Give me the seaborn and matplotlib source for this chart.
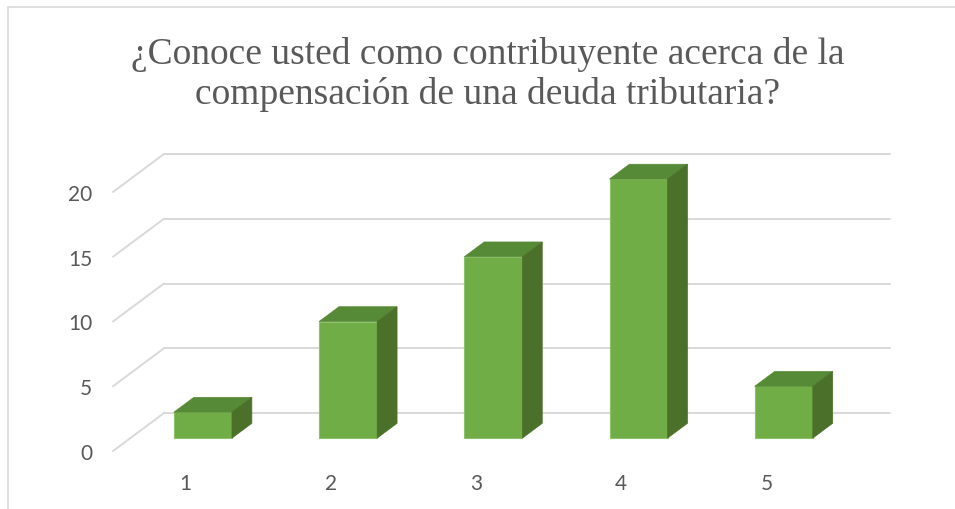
import numpy as np
import pandas as pd
import matplotlib
matplotlib.use('Agg')
import matplotlib.pyplot as plt
import seaborn as sns
from matplotlib.patches import Polygon, Rectangle

sns.set_style('white')

# datos del grafico
categorias = ['1', '2', '3', '4', '5']
valores = [2, 9, 14, 20, 4]
ticks_y = [0, 5, 10, 15, 20]
titulo = ['¿Conoce usted como contribuyente acerca de la',
          'compensación de una deuda tributaria?']

verde = '#70AD47'
verde_top = '#578A36'
verde_lado = '#4A7029'
gris_txt = '#595959'
gris_grid = '#D9D9D9'

# efecto 3D: desplazamiento de la pared del fondo (unidades de datos)
dx, dy = 0.351, 2.93
f_front, f_back = 0.34, 0.73

fig = plt.figure(figsize=(9.55, 5.1), dpi=100)
ax = fig.add_axes([113/955, 1 - 452/510, (890 - 113)/955, (452 - 155)/510])

df = pd.DataFrame({'cat': categorias, 'val': valores})
sns.barplot(data=df, x='cat', y='val', color=verde, width=0.4, saturation=1,
            edgecolor='#8CC36A', linewidth=0.8, ax=ax, zorder=3)

x_left = -0.5
x_right = 4.851

# lineas de cuadricula (diagonal + pared del fondo)
for v in ticks_y:
    ax.plot([x_left, x_left + dx], [v, v + dy], color=gris_grid, lw=1.4, zorder=1, clip_on=False)
    ax.plot([x_left + dx, x_right], [v + dy, v + dy], color=gris_grid, lw=1.4, zorder=1, clip_on=False)

# caras superior y lateral de cada barra
d = f_back - f_front
for p in list(ax.patches):
    x0, w, h = p.get_x(), p.get_width(), p.get_height()
    x0 = x0 + f_front * dx
    y0 = f_front * dy
    p.set_x(x0)
    p.set_y(y0)
    p.set_clip_on(False)
    ddx, ddy = d * dx, d * dy
    top = Polygon([(x0, y0 + h), (x0 + w, y0 + h), (x0 + w + ddx, y0 + h + ddy), (x0 + ddx, y0 + h + ddy)],
                  closed=True, facecolor=verde_top, edgecolor=verde_top, lw=0.5, zorder=3, clip_on=False)
    side = Polygon([(x0 + w, y0), (x0 + w + ddx, y0 + ddy), (x0 + w + ddx, y0 + h + ddy), (x0 + w, y0 + h)],
                   closed=True, facecolor=verde_lado, edgecolor=verde_lado, lw=0.5, zorder=3, clip_on=False)
    ax.add_patch(top)
    ax.add_patch(side)

ax.set_xlim(x_left, x_right)
ax.set_ylim(0, 22.93)
ax.set_yticks(ticks_y)
ax.set_yticklabels([str(t) for t in ticks_y])
ax.set_xlabel('')
ax.set_ylabel('')
for s in ax.spines.values():
    s.set_visible(False)
ax.tick_params(axis='y', length=0, pad=15, labelsize=15, labelcolor=gris_txt)
ax.tick_params(axis='x', length=0, pad=16, labelsize=15, labelcolor=gris_txt)
for lab in ax.get_xticklabels() + ax.get_yticklabels():
    lab.set_family('Lato')
ax.patch.set_alpha(0)

# titulo en dos lineas
for linea, base in zip(titulo, [64, 104]):
    fig.text(0.511, 1 - base/510, linea, ha='center', va='baseline', fontsize=27,
             family='Liberation Serif', color=gris_txt)

# borde del area del grafico
fig.add_artist(Rectangle((8/955, -0.1), 1.0, 1 - 8/510 + 0.1, transform=fig.transFigure,
                         fill=False, edgecolor=gris_grid, lw=1.2))

fig.savefig('out.png', dpi=100)
